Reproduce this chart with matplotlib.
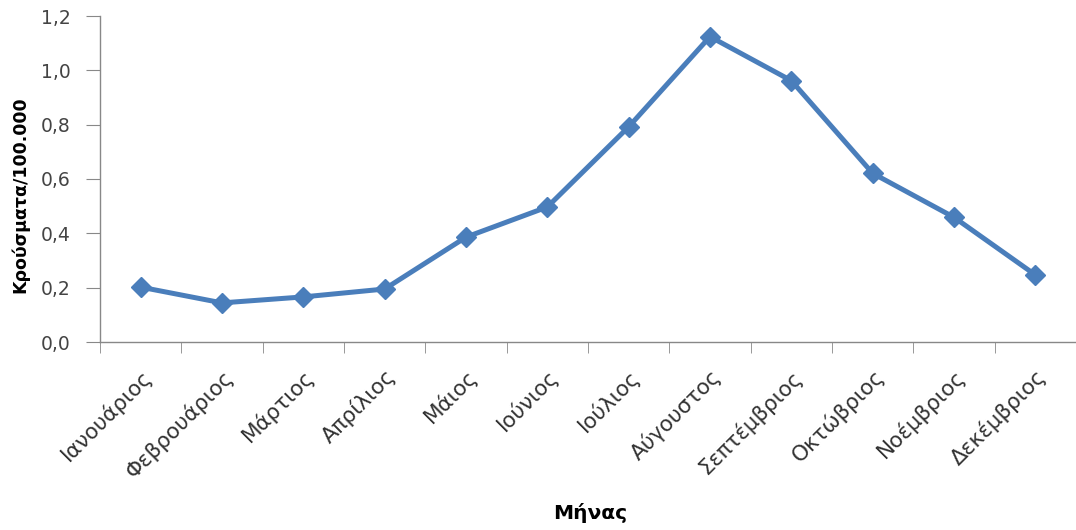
import matplotlib
matplotlib.use("Agg")
import matplotlib.pyplot as plt
from matplotlib.ticker import FixedLocator, FuncFormatter
import numpy as np

months = ["Ιανουάριος", "Φεβρουάριος", "Μάρτιος", "Απρίλιος", "Μάιος", "Ιούνιος",
          "Ιούλιος", "Αύγουστος", "Σεπτέμβριος", "Οκτώβριος", "Νοέμβριος", "Δεκέμβριος"]
values = [0.202, 0.144, 0.166, 0.195, 0.386, 0.497, 0.792, 1.124, 0.962, 0.621, 0.459, 0.247]
yticks = [0.0, 0.2, 0.4, 0.6, 0.8, 1.0, 1.2]

plt.rcParams['font.family'] = ['DejaVu Sans']

fig = plt.figure(figsize=(10.76, 5.30), dpi=100)
ax = fig.add_axes([100/1076, 1-342/530, 976/1076, (342-16)/530])

x = np.arange(len(months))
ax.plot(x, values, color="#4a7ebb", lw=3.6, marker="D", markersize=10,
        markeredgecolor="#4a7ebb")

ax.set_xlim(-0.5, len(months) - 0.5)
ax.set_ylim(0, 1.2)
ax.set_yticks(yticks)
ax.yaxis.set_major_formatter(FuncFormatter(lambda v, p: f"{v:.1f}".replace(".", ",")))

ax.set_xticks(x)
ax.set_xticklabels(months, rotation=45, ha="right", rotation_mode="anchor",
                   fontsize=15.5, color="#333333")
ax.tick_params(axis="x", which="major", length=0, pad=17)
ax.xaxis.set_minor_locator(FixedLocator(np.arange(-0.5, len(months), 1.0)))
ax.tick_params(axis="x", which="minor", length=8, color="#888888", direction="out")
ax.tick_params(axis="y", length=10, color="#888888", labelsize=13.5, labelcolor="#444444", pad=11)

for s in ["top", "right"]:
    ax.spines[s].set_visible(False)
for s in ["left", "bottom"]:
    ax.spines[s].set_color("#888888")
    ax.spines[s].set_linewidth(1.0)

ax.set_ylabel("Κρούσματα/100.000", fontsize=12.5, fontweight="bold")
ax.yaxis.set_label_coords(-(100 - 20) / 976, (342 - 195) / 326)
ax.set_xlabel("Μήνας", fontsize=14.5, fontweight="bold")
ax.xaxis.set_label_coords((590 - 100) / 976, -(513 - 342) / 326)
ax.xaxis.label.set_va("center")
ax.yaxis.label.set_va("center")

fig.savefig("out.png", dpi=100)
